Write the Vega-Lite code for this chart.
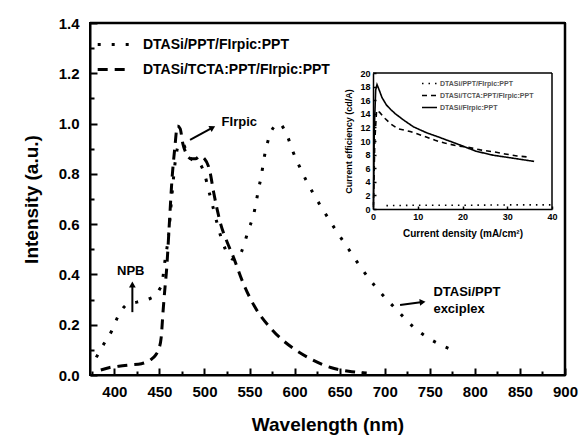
{
  "$schema": "https://vega.github.io/schema/vega-lite/v6.json",
  "width": 475,
  "height": 352,
  "autosize": {"type": "none"},
  "padding": {"left": 90, "top": 23, "right": 19, "bottom": 61},
  "background": "white",
  "config": {
    "view": {"stroke": "black", "strokeWidth": 2},
    "font": "Liberation Sans",
    "axis": {"grid": false, "domainColor": "black", "tickColor": "black", "labelColor": "black", "titleColor": "black"}
  },
  "datasets": {
    "spectra": [
      {"series": "DTASi/PPT/FIrpic:PPT", "wl": 380, "I": 0.07},
      {"series": "DTASi/PPT/FIrpic:PPT", "wl": 387, "I": 0.115},
      {"series": "DTASi/PPT/FIrpic:PPT", "wl": 397, "I": 0.175},
      {"series": "DTASi/PPT/FIrpic:PPT", "wl": 403, "I": 0.225},
      {"series": "DTASi/PPT/FIrpic:PPT", "wl": 414, "I": 0.28},
      {"series": "DTASi/PPT/FIrpic:PPT", "wl": 425, "I": 0.29},
      {"series": "DTASi/PPT/FIrpic:PPT", "wl": 431, "I": 0.295},
      {"series": "DTASi/PPT/FIrpic:PPT", "wl": 440, "I": 0.305},
      {"series": "DTASi/PPT/FIrpic:PPT", "wl": 445, "I": 0.315},
      {"series": "DTASi/PPT/FIrpic:PPT", "wl": 450, "I": 0.34},
      {"series": "DTASi/PPT/FIrpic:PPT", "wl": 453, "I": 0.366},
      {"series": "DTASi/PPT/FIrpic:PPT", "wl": 456, "I": 0.45},
      {"series": "DTASi/PPT/FIrpic:PPT", "wl": 460, "I": 0.55},
      {"series": "DTASi/PPT/FIrpic:PPT", "wl": 464, "I": 0.72},
      {"series": "DTASi/PPT/FIrpic:PPT", "wl": 468, "I": 0.86},
      {"series": "DTASi/PPT/FIrpic:PPT", "wl": 472, "I": 0.92},
      {"series": "DTASi/PPT/FIrpic:PPT", "wl": 476, "I": 0.92},
      {"series": "DTASi/PPT/FIrpic:PPT", "wl": 480, "I": 0.89},
      {"series": "DTASi/PPT/FIrpic:PPT", "wl": 485, "I": 0.86},
      {"series": "DTASi/PPT/FIrpic:PPT", "wl": 490, "I": 0.85},
      {"series": "DTASi/PPT/FIrpic:PPT", "wl": 495, "I": 0.84},
      {"series": "DTASi/PPT/FIrpic:PPT", "wl": 500, "I": 0.8},
      {"series": "DTASi/PPT/FIrpic:PPT", "wl": 505, "I": 0.73},
      {"series": "DTASi/PPT/FIrpic:PPT", "wl": 510, "I": 0.66},
      {"series": "DTASi/PPT/FIrpic:PPT", "wl": 515, "I": 0.59},
      {"series": "DTASi/PPT/FIrpic:PPT", "wl": 520, "I": 0.53},
      {"series": "DTASi/PPT/FIrpic:PPT", "wl": 526, "I": 0.48},
      {"series": "DTASi/PPT/FIrpic:PPT", "wl": 532, "I": 0.46},
      {"series": "DTASi/PPT/FIrpic:PPT", "wl": 538, "I": 0.47},
      {"series": "DTASi/PPT/FIrpic:PPT", "wl": 544, "I": 0.52},
      {"series": "DTASi/PPT/FIrpic:PPT", "wl": 549, "I": 0.58},
      {"series": "DTASi/PPT/FIrpic:PPT", "wl": 554, "I": 0.63},
      {"series": "DTASi/PPT/FIrpic:PPT", "wl": 557, "I": 0.68},
      {"series": "DTASi/PPT/FIrpic:PPT", "wl": 560, "I": 0.74},
      {"series": "DTASi/PPT/FIrpic:PPT", "wl": 563, "I": 0.79},
      {"series": "DTASi/PPT/FIrpic:PPT", "wl": 566, "I": 0.86},
      {"series": "DTASi/PPT/FIrpic:PPT", "wl": 569, "I": 0.91},
      {"series": "DTASi/PPT/FIrpic:PPT", "wl": 573, "I": 0.96},
      {"series": "DTASi/PPT/FIrpic:PPT", "wl": 578, "I": 0.99},
      {"series": "DTASi/PPT/FIrpic:PPT", "wl": 583, "I": 1.0},
      {"series": "DTASi/PPT/FIrpic:PPT", "wl": 588, "I": 0.98},
      {"series": "DTASi/PPT/FIrpic:PPT", "wl": 592, "I": 0.95},
      {"series": "DTASi/PPT/FIrpic:PPT", "wl": 598, "I": 0.89},
      {"series": "DTASi/PPT/FIrpic:PPT", "wl": 604, "I": 0.84},
      {"series": "DTASi/PPT/FIrpic:PPT", "wl": 612, "I": 0.78},
      {"series": "DTASi/PPT/FIrpic:PPT", "wl": 621, "I": 0.72},
      {"series": "DTASi/PPT/FIrpic:PPT", "wl": 631, "I": 0.66},
      {"series": "DTASi/PPT/FIrpic:PPT", "wl": 645, "I": 0.58},
      {"series": "DTASi/PPT/FIrpic:PPT", "wl": 660, "I": 0.5},
      {"series": "DTASi/PPT/FIrpic:PPT", "wl": 675, "I": 0.42},
      {"series": "DTASi/PPT/FIrpic:PPT", "wl": 690, "I": 0.35},
      {"series": "DTASi/PPT/FIrpic:PPT", "wl": 705, "I": 0.29},
      {"series": "DTASi/PPT/FIrpic:PPT", "wl": 717, "I": 0.245},
      {"series": "DTASi/PPT/FIrpic:PPT", "wl": 732, "I": 0.19},
      {"series": "DTASi/PPT/FIrpic:PPT", "wl": 747, "I": 0.15},
      {"series": "DTASi/PPT/FIrpic:PPT", "wl": 762, "I": 0.12},
      {"series": "DTASi/PPT/FIrpic:PPT", "wl": 778, "I": 0.095},
      {"series": "DTASi/TCTA:PPT/FIrpic:PPT", "wl": 385, "I": 0.02},
      {"series": "DTASi/TCTA:PPT/FIrpic:PPT", "wl": 395, "I": 0.03},
      {"series": "DTASi/TCTA:PPT/FIrpic:PPT", "wl": 405, "I": 0.035},
      {"series": "DTASi/TCTA:PPT/FIrpic:PPT", "wl": 417, "I": 0.04},
      {"series": "DTASi/TCTA:PPT/FIrpic:PPT", "wl": 430, "I": 0.045},
      {"series": "DTASi/TCTA:PPT/FIrpic:PPT", "wl": 440, "I": 0.06},
      {"series": "DTASi/TCTA:PPT/FIrpic:PPT", "wl": 446, "I": 0.08},
      {"series": "DTASi/TCTA:PPT/FIrpic:PPT", "wl": 449, "I": 0.1},
      {"series": "DTASi/TCTA:PPT/FIrpic:PPT", "wl": 452, "I": 0.15},
      {"series": "DTASi/TCTA:PPT/FIrpic:PPT", "wl": 454, "I": 0.25},
      {"series": "DTASi/TCTA:PPT/FIrpic:PPT", "wl": 456, "I": 0.34},
      {"series": "DTASi/TCTA:PPT/FIrpic:PPT", "wl": 458, "I": 0.42},
      {"series": "DTASi/TCTA:PPT/FIrpic:PPT", "wl": 461, "I": 0.6},
      {"series": "DTASi/TCTA:PPT/FIrpic:PPT", "wl": 464, "I": 0.78},
      {"series": "DTASi/TCTA:PPT/FIrpic:PPT", "wl": 467, "I": 0.9},
      {"series": "DTASi/TCTA:PPT/FIrpic:PPT", "wl": 470, "I": 0.99},
      {"series": "DTASi/TCTA:PPT/FIrpic:PPT", "wl": 473, "I": 0.98},
      {"series": "DTASi/TCTA:PPT/FIrpic:PPT", "wl": 476, "I": 0.92},
      {"series": "DTASi/TCTA:PPT/FIrpic:PPT", "wl": 480, "I": 0.88},
      {"series": "DTASi/TCTA:PPT/FIrpic:PPT", "wl": 485, "I": 0.86},
      {"series": "DTASi/TCTA:PPT/FIrpic:PPT", "wl": 490, "I": 0.86},
      {"series": "DTASi/TCTA:PPT/FIrpic:PPT", "wl": 495, "I": 0.87},
      {"series": "DTASi/TCTA:PPT/FIrpic:PPT", "wl": 500, "I": 0.86},
      {"series": "DTASi/TCTA:PPT/FIrpic:PPT", "wl": 506, "I": 0.81},
      {"series": "DTASi/TCTA:PPT/FIrpic:PPT", "wl": 510, "I": 0.73},
      {"series": "DTASi/TCTA:PPT/FIrpic:PPT", "wl": 514, "I": 0.66},
      {"series": "DTASi/TCTA:PPT/FIrpic:PPT", "wl": 518, "I": 0.6},
      {"series": "DTASi/TCTA:PPT/FIrpic:PPT", "wl": 525, "I": 0.53},
      {"series": "DTASi/TCTA:PPT/FIrpic:PPT", "wl": 532, "I": 0.47},
      {"series": "DTASi/TCTA:PPT/FIrpic:PPT", "wl": 543, "I": 0.365},
      {"series": "DTASi/TCTA:PPT/FIrpic:PPT", "wl": 556, "I": 0.27},
      {"series": "DTASi/TCTA:PPT/FIrpic:PPT", "wl": 575, "I": 0.18},
      {"series": "DTASi/TCTA:PPT/FIrpic:PPT", "wl": 598, "I": 0.107},
      {"series": "DTASi/TCTA:PPT/FIrpic:PPT", "wl": 620, "I": 0.06},
      {"series": "DTASi/TCTA:PPT/FIrpic:PPT", "wl": 640, "I": 0.03},
      {"series": "DTASi/TCTA:PPT/FIrpic:PPT", "wl": 660, "I": 0.015},
      {"series": "DTASi/TCTA:PPT/FIrpic:PPT", "wl": 680, "I": 0.008}
    ],
    "notes": [
      {"label": "FIrpic", "wl": 519, "I": 1.006},
      {"label": "NPB", "wl": 403, "I": 0.413},
      {"label": "DTASi/PPT", "wl": 754, "I": 0.33},
      {"label": "exciplex", "wl": 754, "I": 0.263}
    ],
    "arrows": [
      {"name": "FIrpic", "wl": 484, "I": 0.935, "wl2": 509, "I2": 0.984},
      {"name": "NPB", "wl": 420, "I": 0.25, "wl2": 420, "I2": 0.36},
      {"name": "exciplex", "wl": 717, "I": 0.278, "wl2": 742, "I2": 0.29}
    ],
    "mainFrame": [
      {"wl": 373, "I": 1.4, "wl2": 900, "I2": 1.4},
      {"wl": 900, "I": 0, "wl2": 900, "I2": 1.4}
    ],
    "insetFrame": [
      {"cd": 40, "eff": 20, "cd2": 0, "eff2": 20},
      {"cd": 40, "eff": 20, "cd2": 40, "eff2": 0}
    ],
    "efficiency": [
      {"device": "DTASi/PPT/FIrpic:PPT", "cd": 3, "eff": 0.5},
      {"device": "DTASi/PPT/FIrpic:PPT", "cd": 10, "eff": 0.55},
      {"device": "DTASi/PPT/FIrpic:PPT", "cd": 20, "eff": 0.55},
      {"device": "DTASi/PPT/FIrpic:PPT", "cd": 30, "eff": 0.6},
      {"device": "DTASi/PPT/FIrpic:PPT", "cd": 40, "eff": 0.6},
      {"device": "DTASi/TCTA:PPT/FIrpic:PPT", "cd": 0.1, "eff": 0.3},
      {"device": "DTASi/TCTA:PPT/FIrpic:PPT", "cd": 0.4, "eff": 10},
      {"device": "DTASi/TCTA:PPT/FIrpic:PPT", "cd": 0.8, "eff": 14.5},
      {"device": "DTASi/TCTA:PPT/FIrpic:PPT", "cd": 1.5, "eff": 14.2},
      {"device": "DTASi/TCTA:PPT/FIrpic:PPT", "cd": 2.7, "eff": 13.3},
      {"device": "DTASi/TCTA:PPT/FIrpic:PPT", "cd": 4, "eff": 12.5},
      {"device": "DTASi/TCTA:PPT/FIrpic:PPT", "cd": 5.6, "eff": 11.8},
      {"device": "DTASi/TCTA:PPT/FIrpic:PPT", "cd": 8.3, "eff": 11.4},
      {"device": "DTASi/TCTA:PPT/FIrpic:PPT", "cd": 11, "eff": 10.8},
      {"device": "DTASi/TCTA:PPT/FIrpic:PPT", "cd": 13.9, "eff": 10.1},
      {"device": "DTASi/TCTA:PPT/FIrpic:PPT", "cd": 16, "eff": 9.7},
      {"device": "DTASi/TCTA:PPT/FIrpic:PPT", "cd": 18.8, "eff": 9.3},
      {"device": "DTASi/TCTA:PPT/FIrpic:PPT", "cd": 21, "eff": 9.1},
      {"device": "DTASi/TCTA:PPT/FIrpic:PPT", "cd": 24, "eff": 8.7},
      {"device": "DTASi/TCTA:PPT/FIrpic:PPT", "cd": 27, "eff": 8.4},
      {"device": "DTASi/TCTA:PPT/FIrpic:PPT", "cd": 29.5, "eff": 8.1},
      {"device": "DTASi/TCTA:PPT/FIrpic:PPT", "cd": 32.2, "eff": 7.8},
      {"device": "DTASi/TCTA:PPT/FIrpic:PPT", "cd": 35.2, "eff": 7.6},
      {"device": "DTASi/FIrpic:PPT", "cd": 0.1, "eff": 0.5},
      {"device": "DTASi/FIrpic:PPT", "cd": 0.3, "eff": 12},
      {"device": "DTASi/FIrpic:PPT", "cd": 0.6, "eff": 17.5},
      {"device": "DTASi/FIrpic:PPT", "cd": 0.9, "eff": 18.3},
      {"device": "DTASi/FIrpic:PPT", "cd": 1.5, "eff": 17.3},
      {"device": "DTASi/FIrpic:PPT", "cd": 2, "eff": 16.4},
      {"device": "DTASi/FIrpic:PPT", "cd": 3, "eff": 15.3},
      {"device": "DTASi/FIrpic:PPT", "cd": 4, "eff": 14.6},
      {"device": "DTASi/FIrpic:PPT", "cd": 5, "eff": 14.0},
      {"device": "DTASi/FIrpic:PPT", "cd": 6.8, "eff": 13.1},
      {"device": "DTASi/FIrpic:PPT", "cd": 9, "eff": 12.1},
      {"device": "DTASi/FIrpic:PPT", "cd": 12, "eff": 11.2},
      {"device": "DTASi/FIrpic:PPT", "cd": 15, "eff": 10.5},
      {"device": "DTASi/FIrpic:PPT", "cd": 19.5, "eff": 9.4},
      {"device": "DTASi/FIrpic:PPT", "cd": 23, "eff": 8.5},
      {"device": "DTASi/FIrpic:PPT", "cd": 26.9, "eff": 7.9},
      {"device": "DTASi/FIrpic:PPT", "cd": 30, "eff": 7.6},
      {"device": "DTASi/FIrpic:PPT", "cd": 33, "eff": 7.3},
      {"device": "DTASi/FIrpic:PPT", "cd": 36, "eff": 7.0}
    ]
  },
  "layer": [
    {
      "encoding": {
        "x": {
          "field": "wl", "type": "quantitative",
          "scale": {"domain": [373, 900], "nice": false, "zero": false},
          "axis": {
            "orient": "bottom",
            "values": [375, 400, 425, 450, 475, 500, 525, 550, 575, 600, 625, 650, 675, 700, 725, 750, 775, 800, 825, 850, 875, 900],
            "labelExpr": "datum.value % 50 === 0 ? datum.label : ''",
            "tickSize": {"condition": {"test": "datum.value % 50 === 0", "value": -7}, "value": -4},
            "tickWidth": 2, "domainWidth": 2,
            "labelFontSize": 15, "labelFontWeight": "bold", "labelPadding": 16,
            "labelFlush": false, "labelOverlap": false,
            "title": "Wavelength (nm)", "titleFontSize": 19, "titleFontWeight": "bold", "titlePadding": 13
          }
        },
        "y": {
          "field": "I", "type": "quantitative",
          "scale": {"domain": [0, 1.4], "nice": false},
          "axis": {
            "orient": "left",
            "values": [0, 0.1, 0.2, 0.3, 0.4, 0.5, 0.6, 0.7, 0.8, 0.9, 1.0, 1.1, 1.2, 1.3, 1.4],
            "labelExpr": "round(datum.value * 10) % 2 === 0 ? format(datum.value, '.1f') : ''",
            "tickSize": {"condition": {"test": "round(datum.value * 10) % 2 === 0", "value": -7}, "value": -4},
            "tickWidth": 2, "domainWidth": 2,
            "labelFontSize": 15, "labelFontWeight": "bold", "labelPadding": 18,
            "labelOverlap": false, "labelFlush": false,
            "title": "Intensity (a.u.)", "titleFontSize": 19, "titleFontWeight": "bold", "titlePadding": 17
          }
        }
      },
      "layer": [
        {
          "data": {"name": "mainFrame"},
          "mark": {"type": "rule", "color": "black", "strokeWidth": 2.5},
          "encoding": {"x2": {"field": "wl2"}, "y2": {"field": "I2"}}
        },
        {
          "data": {"name": "spectra"},
          "mark": {"type": "line", "color": "black", "strokeWidth": 3, "interpolate": "monotone"},
          "encoding": {
            "detail": {"field": "series"},
            "strokeDash": {
              "field": "series", "type": "nominal",
              "scale": {"domain": ["DTASi/PPT/FIrpic:PPT", "DTASi/TCTA:PPT/FIrpic:PPT"], "range": [[3, 11], [10, 7]]},
              "legend": {
                "orient": "none", "legendX": 6, "legendY": 4, "title": null,
                "symbolType": "stroke", "symbolSize": 1000, "symbolStrokeWidth": 3, "symbolStrokeColor": "black",
                "labelFontSize": 14, "labelFontWeight": "bold", "labelColor": "black", "labelOffset": 12,
                "labelLimit": 400, "rowPadding": -12, "padding": 0
              }
            }
          }
        },
        {
          "data": {"name": "arrows"},
          "mark": {"type": "rule", "color": "black", "strokeWidth": 2},
          "encoding": {"x2": {"field": "wl2"}, "y2": {"field": "I2"}}
        },
        {
          "data": {"name": "arrows"},
          "transform": [{"filter": "datum.name === 'FIrpic'"}],
          "mark": {"type": "point", "shape": "triangle-right", "filled": true, "color": "black", "size": 45, "angle": 331, "opacity": 1},
          "encoding": {"x": {"field": "wl2", "type": "quantitative"}, "y": {"field": "I2", "type": "quantitative"}}
        },
        {
          "data": {"name": "arrows"},
          "transform": [{"filter": "datum.name === 'NPB'"}],
          "mark": {"type": "point", "shape": "triangle-up", "filled": true, "color": "black", "size": 45, "opacity": 1},
          "encoding": {"x": {"field": "wl2", "type": "quantitative"}, "y": {"field": "I2", "type": "quantitative"}}
        },
        {
          "data": {"name": "arrows"},
          "transform": [{"filter": "datum.name === 'exciplex'"}],
          "mark": {"type": "point", "shape": "triangle-right", "filled": true, "color": "black", "size": 45, "angle": 354, "opacity": 1},
          "encoding": {"x": {"field": "wl2", "type": "quantitative"}, "y": {"field": "I2", "type": "quantitative"}}
        },
        {
          "data": {"name": "notes"},
          "mark": {"type": "text", "align": "left", "baseline": "middle", "fontSize": 13, "fontWeight": "bold", "color": "black"},
          "encoding": {"text": {"field": "label"}}
        }
      ]
    },
    {
      "encoding": {
        "x": {
          "field": "cd", "type": "quantitative",
          "scale": {"domain": [0, 40], "nice": false, "range": [283, 462]},
          "axis": {
            "orient": "bottom", "offset": -166,
            "values": [0, 10, 20, 30, 40],
            "tickSize": -3, "tickWidth": 1.5, "domainWidth": 1.5,
            "labelFontSize": 9, "labelFontWeight": "bold", "labelPadding": 6, "labelFlush": false,
            "title": "Current density (mA/cm²)", "titleFontSize": 10, "titleFontWeight": "bold", "titlePadding": 7
          }
        },
        "y": {
          "field": "eff", "type": "quantitative",
          "scale": {"domain": [0, 20], "nice": false, "range": [186, 50]},
          "axis": {
            "orient": "left", "offset": -283,
            "values": [0, 2, 4, 6, 8, 10, 12, 14, 16, 18, 20],
            "tickSize": -3, "tickWidth": 1.5, "domainWidth": 1.5,
            "labelFontSize": 9, "labelFontWeight": "bold", "labelPadding": 6, "labelFlush": false,
            "title": "Current efficiency (cd/A)", "titleFontSize": 9, "titleFontWeight": "bold", "titlePadding": 6
          }
        }
      },
      "layer": [
        {
          "data": {"name": "insetFrame"},
          "mark": {"type": "rule", "color": "black", "strokeWidth": 1.5},
          "encoding": {"x2": {"field": "cd2"}, "y2": {"field": "eff2"}}
        },
        {
          "data": {"name": "efficiency"},
          "mark": {"type": "line", "color": "black", "strokeWidth": 1.6},
          "encoding": {
            "detail": {"field": "device"},
            "strokeDash": {
              "field": "device", "type": "nominal",
              "scale": {"domain": ["DTASi/PPT/FIrpic:PPT", "DTASi/TCTA:PPT/FIrpic:PPT", "DTASi/FIrpic:PPT"], "range": [[1.5, 5], [5, 4], [1, 0]]},
              "legend": {
                "orient": "none", "legendX": 331, "legendY": 52, "title": null,
                "symbolType": "stroke", "symbolSize": 225, "symbolStrokeWidth": 1.6, "symbolStrokeColor": "black",
                "labelFontSize": 7, "labelFontWeight": "bold", "labelColor": "#555555", "labelOffset": 2,
                "labelLimit": 300, "rowPadding": -3.5, "padding": 0
              }
            }
          }
        }
      ]
    }
  ],
  "resolve": {
    "scale": {"x": "independent", "y": "independent", "strokeDash": "independent"},
    "axis": {"x": "independent", "y": "independent"},
    "legend": {"strokeDash": "independent"}
  }
}
